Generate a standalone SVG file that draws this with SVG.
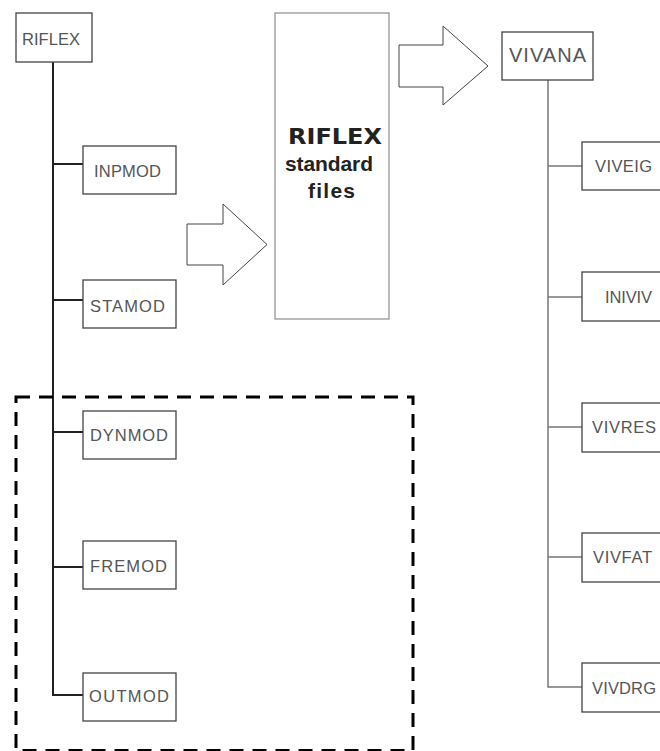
<svg xmlns="http://www.w3.org/2000/svg" width="660" height="751" viewBox="0 0 660 751">
<style>
.box{fill:#fff;stroke:#444;stroke-width:1.3}
.lbl{font-family:"Liberation Sans",Arial,sans-serif;font-size:16.5px;fill:#555}
.big{font-family:"Liberation Sans",Arial,sans-serif;font-size:21px;font-weight:bold;fill:#222;text-anchor:middle}
.trunk{fill:none;stroke:#222;stroke-width:2}
.rtrunk{fill:none;stroke:#777;stroke-width:1.5}
.arrow{fill:#fff;stroke:#444;stroke-width:1}
</style>
<rect width="660" height="751" fill="#fff"/>
<g id="connectors">
<path class="trunk" d="M53,62 V695 H83 M53,164 H83 M53,300 H83 M53,432 H83 M53,567 H83"/>
<path class="rtrunk" d="M548,80 V687 H582 M548,166 H582 M548,297 H582 M548,427 H582 M548,557 H582"/>
<path id="arrow1" class="arrow" d="M187,224 H223 V204 L267,244.5 L223,285 V265 H187 Z"/>
<path id="arrow2" class="arrow" d="M399,45 H443 V26 L488,66 L443,105 V87 H399 Z"/>
</g>
<g id="riflex"><rect class="box" x="16" y="13" width="76" height="49"/><text class="lbl" x="22" y="45" textLength="58" lengthAdjust="spacing">RIFLEX</text></g>
<g id="inpmod"><rect class="box" x="83" y="146" width="93" height="48"/><text class="lbl" x="94" y="177" textLength="67" lengthAdjust="spacing">INPMOD</text></g>
<g id="stamod"><rect class="box" x="83" y="280" width="93" height="48"/><text class="lbl" x="90" y="312" textLength="75" lengthAdjust="spacing">STAMOD</text></g>
<g id="dynmod"><rect class="box" x="83" y="411" width="93" height="48"/><text class="lbl" x="90" y="441" textLength="78" lengthAdjust="spacing">DYNMOD</text></g>
<g id="fremod"><rect class="box" x="83" y="541" width="93" height="48"/><text class="lbl" x="90" y="572" textLength="77" lengthAdjust="spacing">FREMOD</text></g>
<g id="outmod"><rect class="box" x="83" y="673" width="93" height="48"/><text class="lbl" x="89" y="702" textLength="80" lengthAdjust="spacing">OUTMOD</text></g>
<g id="standard-files"><rect x="275" y="13" width="114" height="306" fill="#fff" stroke="#777" stroke-width="1"/>
<text class="big" x="335" y="144" textLength="94" lengthAdjust="spacingAndGlyphs" style="font-family:'DejaVu Sans','Liberation Sans',sans-serif">RIFLEX</text>
<text class="big" x="329" y="171" textLength="88" lengthAdjust="spacing">standard</text>
<text class="big" x="331.5" y="198" textLength="47" lengthAdjust="spacing">files</text></g>
<g id="vivana"><rect class="box" x="502" y="32" width="91" height="48"/><text class="lbl" x="509" y="62" textLength="77" lengthAdjust="spacing" style="font-size:20px">VIVANA</text></g>
<g id="viveig"><rect class="box" x="582" y="142" width="93" height="48"/><text class="lbl" x="595" y="172" textLength="57" lengthAdjust="spacing">VIVEIG</text></g>
<g id="iniviv"><rect class="box" x="582" y="272" width="93" height="49"/><text class="lbl" x="605" y="303" textLength="47" lengthAdjust="spacing">INIVIV</text></g>
<g id="vivres"><rect class="box" x="582" y="403" width="93" height="49"/><text class="lbl" x="592" y="433" textLength="64" lengthAdjust="spacing">VIVRES</text></g>
<g id="vivfat"><rect class="box" x="582" y="533" width="93" height="49"/><text class="lbl" x="593" y="563" textLength="59" lengthAdjust="spacing">VIVFAT</text></g>
<g id="vivdrg"><rect class="box" x="582" y="663" width="93" height="49"/><text class="lbl" x="592" y="694" textLength="64" lengthAdjust="spacing">VIVDRG</text></g>
<rect id="group-frame" x="16" y="397" width="397" height="353.5" fill="none" stroke="#000" stroke-width="3" stroke-dasharray="14 9"/>
</svg>
